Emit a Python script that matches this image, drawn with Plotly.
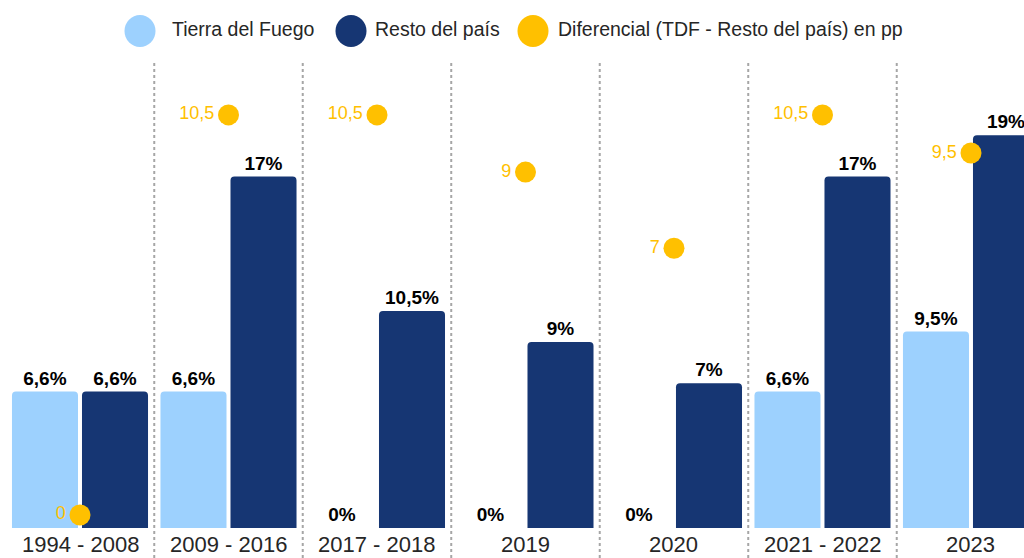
import plotly.graph_objects as go

# ---- data ----
categories = ["1994 - 2008", "2009 - 2016", "2017 - 2018", "2019", "2020", "2021 - 2022", "2023"]
tdf = [6.6, 6.6, 0, 0, 0, 6.6, 9.5]
resto = [6.6, 17, 10.5, 9, 7, 17, 19]
diferencial = [0, 10.5, 10.5, 9, 7, 10.5, 9.5]
series_names = ["Tierra del Fuego", "Resto del país", "Diferencial (TDF - Resto del país) en pp"]

# ---- styles ----
C_TDF = "#9DD1FE"
C_RESTO = "#163673"
C_DIF = "#FFC000"
FONT = "Liberation Sans, Arial, sans-serif"
TXT = "#262626"


def fmt(v, pct=True):
    s = f"{v:g}".replace(".", ",")
    return s + ("%" if pct else "")


xs = list(range(len(categories)))

fig = go.Figure()
fig.add_trace(go.Bar(
    x=xs, y=tdf, name=series_names[0],
    marker=dict(color=[C_TDF if v > 0 else "rgba(0,0,0,0)" for v in tdf], line=dict(width=0)),
    text=[fmt(v) for v in tdf], textposition="outside",
    textfont=dict(family=FONT, size=19, color="black", weight="bold"),
    cliponaxis=False,
))
fig.add_trace(go.Bar(
    x=xs, y=resto, name=series_names[1],
    marker=dict(color=C_RESTO, line=dict(width=0)),
    text=[fmt(v) for v in resto], textposition="outside",
    textfont=dict(family=FONT, size=19, color="black", weight="bold"),
    cliponaxis=False,
))
fig.add_trace(go.Scatter(
    x=xs, y=diferencial, name=series_names[2], yaxis="y2",
    mode="markers+text", marker=dict(color=C_DIF, size=21),
    text=[fmt(v, False) for v in diferencial], textposition="middle left",
    textfont=dict(family=FONT, size=18, color=C_DIF),
    cliponaxis=False,
))

shapes = []
# dotted separators between groups
for i in range(len(categories) - 1):
    shapes.append(dict(type="line", xref="x", yref="y", x0=i + 0.5, x1=i + 0.5,
                       y0=-1.45, y1=22.6,
                       line=dict(color="#A6A6A6", width=2, dash="dot")))

# manual legend
legend_items = [(series_names[0], C_TDF, 140, 170),
                (series_names[1], C_RESTO, 351, 373),
                (series_names[2], C_DIF, 533, 556)]
annotations = []
ly = 1 - 31 / 558
for name, col, cx, tx in legend_items:
    shapes.append(dict(type="circle", xref="paper", yref="paper",
                       xsizemode="pixel", ysizemode="pixel",
                       xanchor=cx / 1024, yanchor=ly,
                       x0=-15.5, x1=15.5, y0=-16, y1=16,
                       fillcolor=col, line=dict(width=0)))
    annotations.append(dict(text=name, xref="paper", yref="paper",
                            x=tx / 1024, y=ly + 0.004, xanchor="left", yanchor="middle",
                            showarrow=False, font=dict(family=FONT, size=19.5, color=TXT)))

# category labels
for i, c in enumerate(categories):
    annotations.append(dict(text=c, x=i, y=-0.80, xref="x", yref="y",
                            xanchor="center", yanchor="middle", showarrow=False,
                            font=dict(family=FONT, size=22, color=TXT)))

fig.update_layout(
    width=1024, height=558,
    margin=dict(l=0, r=0, t=0, b=0),
    paper_bgcolor="white", plot_bgcolor="white",
    barmode="group", bargap=0.057, bargroupgap=0.057,
    barcornerradius=4,
    showlegend=False,
    font=dict(family=FONT),
    xaxis=dict(range=[-0.5387, 6.357], showticklabels=False, showgrid=False,
               zeroline=False, showline=False, ticks=""),
    yaxis=dict(range=[-1.451, 25.54], visible=False, showgrid=False, zeroline=False),
    yaxis2=dict(range=[-1.129, 13.517], overlaying="y", visible=False,
                showgrid=False, zeroline=False),
    shapes=shapes,
    annotations=annotations,
)

fig.write_html("out.html", config={"displayModeBar": False},
               post_script="document.body.style.margin='0';document.body.style.overflow='hidden';")
